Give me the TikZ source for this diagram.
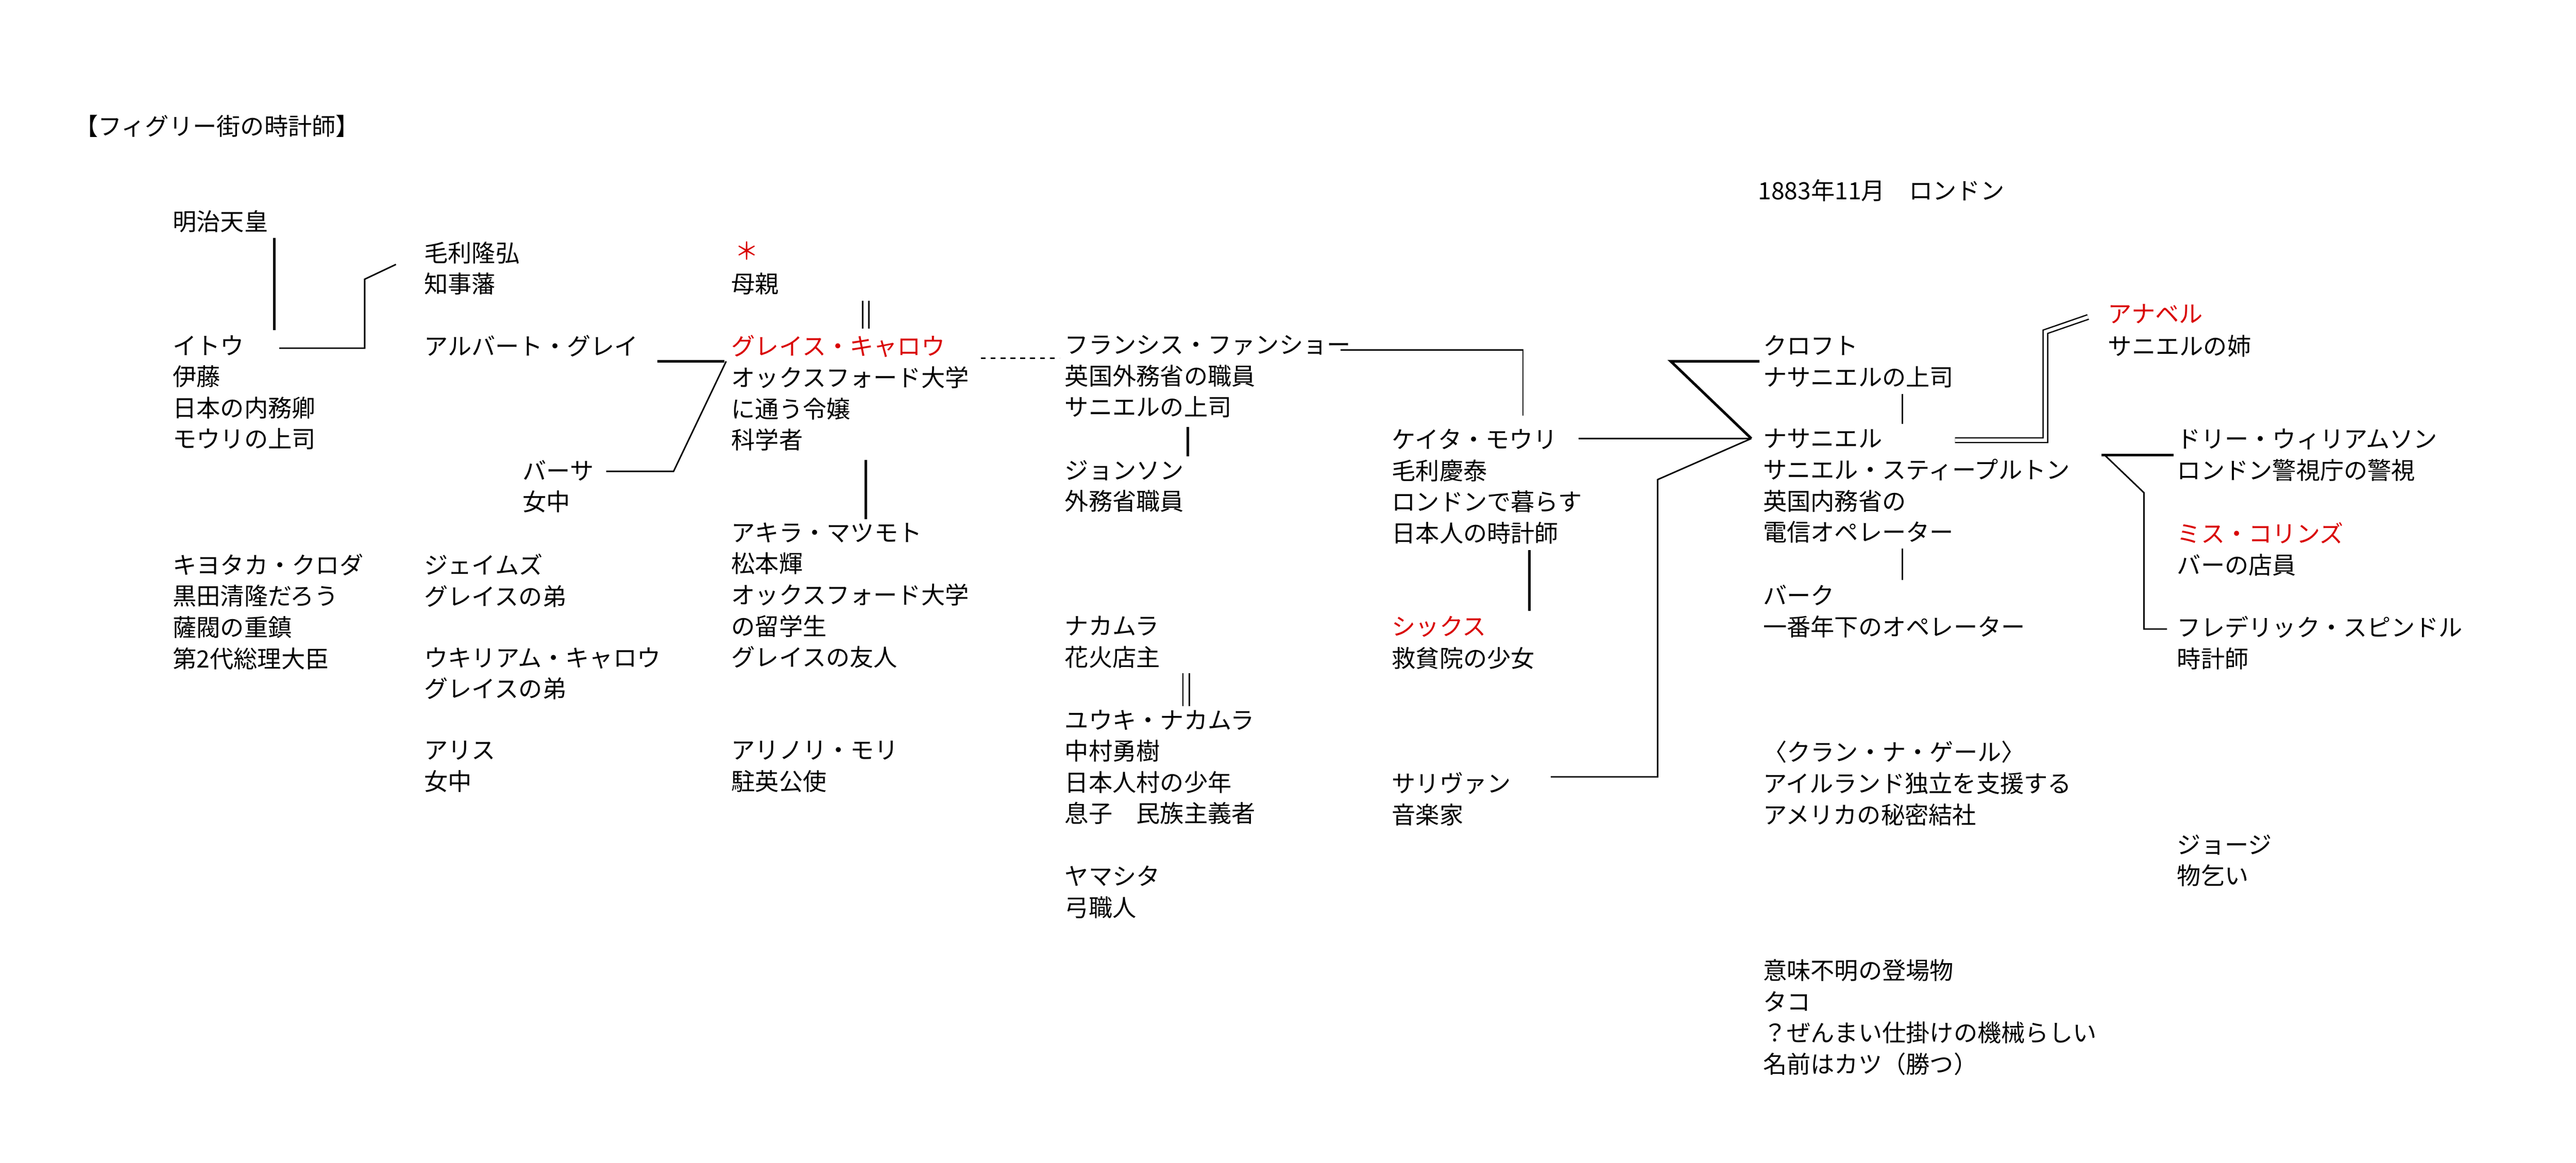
\documentclass[tikz,border=0pt]{standalone}
\usepackage{fontspec}
\setmainfont{Noto Sans CJK JP}
\begin{document}
\begin{tikzpicture}[x=1pt,y=-1pt,
  t/.style={anchor=north west,inner sep=0pt,align=left,font=\fontsize{14.5}{19}\selectfont},
  r/.style={t,text=red!85!black},
  ln/.style={line width=0.9pt},
  tk/.style={line width=1.6pt},
  dbl/.style={double,double distance=2pt,line width=0.8pt}]
\useasboundingbox (0,0) rectangle (1568,708);
\node[t] (title) at (45,70) {【フィグリー街の時計師】};
\node[t] (date) at (1070,109) {1883年11月\quad ロンドン};
\node[t] (meiji) at (105,128) {明治天皇};
\node[t] (mouri) at (258,147) {毛利隆弘\\知事藩};
\node[r] (star) at (447,147) {＊};
\node[t] (haha) at (445,166) {母親};
\node[t] (ito) at (105,204) {イトウ\\伊藤\\日本の内務卿\\モウリの上司};
\node[t] (albert) at (258,204) {アルバート・グレイ};
\node[r] (grace) at (445,204) {グレイス・キャロウ};
\node[t] (grace2) at (445,223) {オックスフォード大学\\に通う令嬢\\科学者};
\node[t] (francis) at (648,204) {フランシス・ファンショー\\英国外務省の職員\\サニエルの上司};
\node[t] (johnson) at (648,280) {ジョンソン\\外務省職員};
\node[t] (keita) at (847,261) {ケイタ・モウリ\\毛利慶泰\\ロンドンで暮らす\\日本人の時計師};
\node[t] (croft) at (1073,204) {クロフト\\ナサニエルの上司};
\node[r] (annabel) at (1283,185) {アナベル};
\node[t] (annabel2) at (1283,204) {サニエルの姉};
\node[t] (nath) at (1073,261) {ナサニエル\\サニエル・スティープルトン\\英国内務省の\\電信オペレーター};
\node[t] (dolly) at (1325,261) {ドリー・ウィリアムソン\\ロンドン警視庁の警視};
\node[r] (collins) at (1325,318) {ミス・コリンズ};
\node[t] (collins2) at (1325,337) {バーの店員};
\node[t] (fred) at (1325,375) {フレデリック・スピンドル\\時計師};
\node[t] (burke) at (1073,356) {バーク\\一番年下のオペレーター};
\node[t] (bertha) at (318,280) {バーサ\\女中};
\node[t] (kuroda) at (105,337) {キヨタカ・クロダ\\黒田清隆だろう\\薩閥の重鎮\\第2代総理大臣};
\node[t] (james) at (258,337) {ジェイムズ\\グレイスの弟};
\node[t] (william) at (258,394) {ウキリアム・キャロウ\\グレイスの弟};
\node[t] (alice) at (258,451) {アリス\\女中};
\node[t] (akira) at (445,318) {アキラ・マツモト\\松本輝\\オックスフォード大学\\の留学生\\グレイスの友人};
\node[t] (mori) at (445,451) {アリノリ・モリ\\駐英公使};
\node[t] (nakamura) at (648,375) {ナカムラ\\花火店主};
\node[t] (yuki) at (648,432) {ユウキ・ナカムラ\\中村勇樹\\日本人村の少年\\息子\quad 民族主義者};
\node[t] (yamashita) at (648,527) {ヤマシタ\\弓職人};
\node[r] (six) at (847,375) {シックス};
\node[t] (six2) at (847,394) {救貧院の少女};
\node[t] (sullivan) at (847,470) {サリヴァン\\音楽家};
\node[t] (clan) at (1073,451) {〈クラン・ナ・ゲール〉\\アイルランド独立を支援する\\アメリカの秘密結社};
\node[t] (george) at (1325,508) {ジョージ\\物乞い};
\node[t] (taco) at (1073,584) {意味不明の登場物\\タコ\\？ぜんまい仕掛けの機械らしい\\名前はカツ（勝つ）};
% connectors
\draw[tk] (167,145) -- (167,201);
\draw[ln] (170,212) -- (222,212) -- (222,170) -- (241,161);
\draw[tk] (400,220) -- (441,220);
\draw[ln] (369,287) -- (410,287) -- (442,220);
\draw[ln] (525,183) -- (525,200);
\draw[ln] (529,183) -- (529,200);
\draw[tk] (527,280) -- (527,316);
\draw[ln,dashed] (597,218) -- (645,218);
\draw[ln] (816,213) -- (927,213) -- (927,253);
\draw[tk] (723,260) -- (723,278);
\draw[ln] (720,410) -- (720,430);
\draw[ln] (724,410) -- (724,430);
\draw[ln] (961,267) -- (1066,267);
\draw[tk] (931,335) -- (931,372);
\draw[tk] (1071,220) -- (1017,220) -- (1066,267);
\draw[ln] (944,473) -- (1009,473) -- (1009,292) -- (1066,267);
\draw[ln] (1158,240) -- (1158,258);
\draw[ln] (1158,334) -- (1158,353);
\draw[dbl] (1190,268) -- (1245,268) -- (1245,202) -- (1271,193);
\draw[tk] (1279,277) -- (1323,277);
\draw[ln] (1281,277) -- (1305,300) -- (1305,383) -- (1319,383);
\end{tikzpicture}
\end{document}
